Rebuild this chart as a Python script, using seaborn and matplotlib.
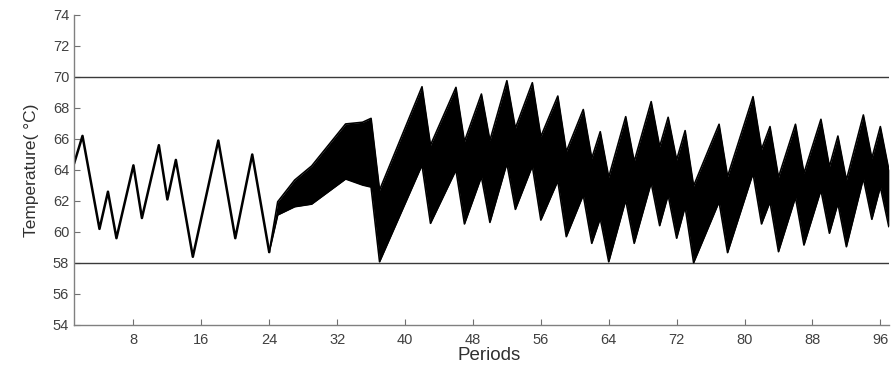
import numpy as np
import pandas as pd
import matplotlib
matplotlib.use("Agg")
import matplotlib.pyplot as plt
import seaborn as sns

# ----------------------------
# data (vertices)
# ----------------------------
single_periods = [1, 2, 4, 5, 6, 8, 9, 11, 12, 13, 15, 18, 20, 22, 24]
single_temp = [64.4, 66.2, 60.2, 62.6, 59.6, 64.3, 60.9, 65.6, 62.1, 64.65,
               58.4, 65.9, 59.6, 65.0, 58.7]

band_periods = [24, 25, 27, 29, 33, 35, 36, 37,
                42, 43, 46, 47, 49, 50, 52, 53, 55, 56,
                58, 59, 61, 62, 63, 64, 66, 67, 69, 70,
                71, 72, 73, 74, 77, 78, 81, 82, 83, 84,
                86, 87, 89, 90, 91, 92, 94, 95, 96, 97]
band_upper = [58.7, 61.95, 63.35, 64.26, 66.97, 67.08, 67.33, 62.7,
              69.37, 65.6, 69.33, 65.83, 68.9, 65.9, 69.76, 66.69, 69.63, 66.15,
              68.77, 65.18, 67.9, 64.75, 66.47, 63.53, 67.44, 64.54, 68.41, 65.5,
              67.4, 64.65, 66.54, 62.97, 66.95, 63.57, 68.73, 65.33, 66.8, 63.53,
              66.95, 63.79, 67.27, 64.21, 66.19, 63.35, 67.55, 64.75, 66.8, 64.0]
band_lower = [58.7, 61.1, 61.63, 61.8, 63.42, 63.03, 62.9, 58.08,
              64.32, 60.56, 64.0, 60.52, 63.57, 60.62, 64.43, 61.46, 64.26, 60.77,
              63.3, 59.7, 62.39, 59.27, 60.88, 58.08, 62.06, 59.27, 63.18, 60.41,
              62.39, 59.6, 61.63, 58.02, 61.95, 58.67, 63.79, 60.52, 61.95, 58.73,
              62.24, 59.16, 62.71, 59.92, 61.85, 59.05, 63.46, 60.82, 62.92, 60.34]

limit_high = 70
limit_low = 58
x_ticks = list(range(8, 97, 8))
y_ticks = list(range(54, 75, 2))

single_df = pd.DataFrame({"Period": single_periods, "Temp": single_temp})
band_df = pd.DataFrame({"Period": band_periods, "Upper": band_upper, "Lower": band_lower})

# ----------------------------
# plot
# ----------------------------
sns.set_theme(style="white")
plt.rcParams["font.family"] = ["Liberation Sans", "DejaVu Sans"]

fig = plt.figure(figsize=(8.96, 3.71), dpi=100)
ax = fig.add_axes([0.0826, 0.124, 0.9094, 0.8356])

ax.axhline(limit_high, color="#3a3a3a", lw=1.0, zorder=1)
ax.axhline(limit_low, color="#3a3a3a", lw=1.0, zorder=1)

sns.lineplot(data=single_df, x="Period", y="Temp", ax=ax, color="black", lw=1.8)
ax.fill_between(band_df["Period"], band_df["Lower"], band_df["Upper"],
                color="black", lw=0)
sns.lineplot(data=band_df, x="Period", y="Upper", ax=ax, color="black", lw=1.2)
sns.lineplot(data=band_df, x="Period", y="Lower", ax=ax, color="black", lw=1.2)

ax.set_xlim(1, 97)
ax.set_ylim(54, 74)
ax.set_xticks(x_ticks)
ax.set_yticks(y_ticks)
ax.tick_params(bottom=True, left=True, direction="in", length=4, width=0.8,
               colors="#707070", labelcolor="#404040", labelsize=10.5)
ax.tick_params(axis="x", pad=6)

for side in ["top", "right"]:
    ax.spines[side].set_visible(False)
for side in ["left", "bottom"]:
    ax.spines[side].set_color("#808080")
    ax.spines[side].set_linewidth(1.0)

ax.set_xlabel("Periods", fontsize=13.5, color="#303030", labelpad=0)
ax.xaxis.set_label_coords(0.51, -0.072)
ax.set_ylabel("Temperature( °C)", fontsize=12.5, color="#303030", labelpad=10)

fig.savefig("out.png", dpi=100)
